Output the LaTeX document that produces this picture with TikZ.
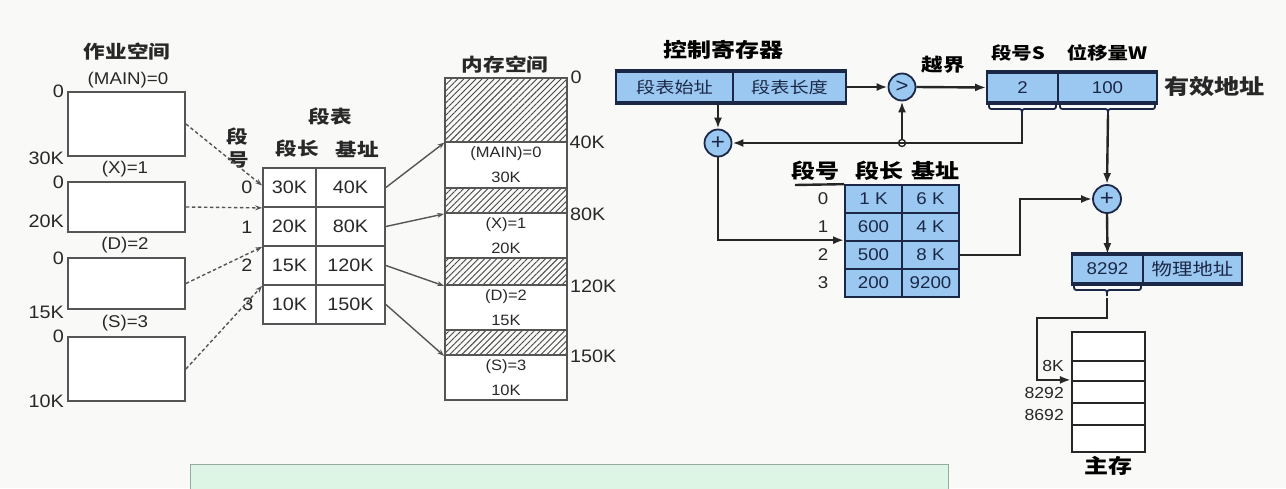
\documentclass[tikz,border=0pt]{standalone}
\usepackage{fontspec}
\setmainfont{Liberation Sans}
\newfontfamily\lat{Liberation Sans}[FakeStretch=1.1]
\newfontfamily\cjk{Noto Sans CJK SC}[FakeStretch=1.2]
\usetikzlibrary{arrows.meta,patterns.meta,calc}
\newcommand\cjkf[1]{\cjk\bfseries\fontsize{#1}{#1}\selectfont}
\newcommand\cjkr[1]{\cjk\fontsize{#1}{#1}\selectfont}
\newcommand\latf[1]{\lat\fontsize{#1}{#1}\selectfont}
\definecolor{bg}{RGB}{249,249,247}
\definecolor{txt}{RGB}{40,40,40}
\definecolor{boxgray}{RGB}{85,85,85}
\definecolor{hatchgray}{RGB}{70,70,70}
\definecolor{lblue}{RGB}{155,200,240}
\definecolor{navy}{RGB}{27,39,71}
\definecolor{gfill}{RGB}{220,245,228}
\definecolor{gline}{RGB}{150,170,160}
\tikzset{
  tx/.style={inner sep=0pt, text=txt},
  jobbox/.style={draw=boxgray, line width=1.8pt, fill=white, inner sep=0pt, minimum width=117pt},
  cell/.style={draw=boxgray, line width=1.8pt, fill=white, inner sep=0pt, minimum height=39pt, text=txt, font=\latf{18}},
  memseg/.style={draw=boxgray, line width=1.8pt, fill=white, inner sep=0pt, minimum width=122pt, text=txt, align=center, font=\lat\fontsize{15}{25}\selectfont},
  hatch/.style={draw=boxgray, line width=1.8pt, inner sep=0pt, minimum width=122pt, pattern={Lines[angle=45,distance=4.3pt,line width=0.9pt]}, pattern color=hatchgray},
  dasharr/.style={draw=boxgray, line width=1.4pt, dash pattern=on 3.5pt off 2.5pt, -{Stealth[open,length=7pt,width=5pt]}},
  thinarr/.style={draw=boxgray, line width=1.4pt, -{Stealth[open,length=7pt,width=5pt]}},
  bcell/.style={draw=navy, line width=1.7pt, fill=lblue, inner sep=0pt, text=navy},
  opc/.style={circle, draw=navy, line width=1.8pt, fill=lblue, minimum size=27pt, inner sep=0pt, text=navy},
  arr/.style={draw=black!85, line width=2.4pt, -{Latex[length=11pt,width=8pt]}},
  ln/.style={draw=black!85, line width=2.4pt},
  brc/.style={draw=navy, line width=1.8pt},
  mcell/.style={draw=black!85, line width=2.2pt, fill=white, inner sep=0pt, minimum width=73pt},
}
\begin{document}
\begin{tikzpicture}[x=1pt,y=-1pt]
\fill[bg] (0,0) rectangle (1286,488);
\useasboundingbox (0,0) rectangle (1286,488);

% ---------- job space ----------
\node[tx, font=\cjkf{18}] (ljob) at (127,52) {作业空间};
\node[tx, font=\latf{17}] (lmain) at (128,80) {(MAIN)=0};
\node[jobbox, minimum height=64pt] (j0) at (126.5,124) {};
\node[tx, font=\latf{17}] (lx) at (125,169) {(X)=1};
\node[jobbox, minimum height=50pt] (j1) at (126.5,207) {};
\node[tx, font=\latf{17}] (ld) at (125,245) {(D)=2};
\node[jobbox, minimum height=51pt] (j2) at (126.5,283.5) {};
\node[tx, font=\latf{17}] (ls) at (125,323) {(S)=3};
\node[jobbox, minimum height=64pt] (j3) at (126.5,369) {};

\node[tx, font=\latf{18}, anchor=east] (a0) at (64,91) {0};
\node[tx, font=\latf{18}, anchor=east] (a1) at (64,158) {30K};
\node[tx, font=\latf{18}, anchor=east] (a2) at (64,182) {0};
\node[tx, font=\latf{18}, anchor=east] (a3) at (64,221) {20K};
\node[tx, font=\latf{18}, anchor=east] (a4) at (64,258) {0};
\node[tx, font=\latf{18}, anchor=east] (a5) at (64,312) {15K};
\node[tx, font=\latf{18}, anchor=east] (a6) at (64,336) {0};
\node[tx, font=\latf{18}, anchor=east] (a7) at (64,401) {10K};

% ---------- segment table ----------
\node[tx, font=\cjkf{18}] (ltab) at (330,117) {段表};
\node[tx, font=\cjkf{18}] (llen) at (297,149) {段长};
\node[tx, font=\cjkf{18}] (lbase) at (357,149) {基址};
\node[tx, font=\cjkf{18}] (lduan) at (237,137) {段};
\node[tx, font=\cjkf{18}] (lhao) at (238,160) {号};

\node[cell, minimum width=53pt] (t00) at (289.5,187.5) {30K};
\node[cell, minimum width=69pt] (t01) at (350.5,187.5) {40K};
\node[cell, minimum width=53pt] (t10) at (289.5,226.5) {20K};
\node[cell, minimum width=69pt] (t11) at (350.5,226.5) {80K};
\node[cell, minimum width=53pt] (t20) at (289.5,265.5) {15K};
\node[cell, minimum width=69pt] (t21) at (350.5,265.5) {120K};
\node[cell, minimum width=53pt] (t30) at (289.5,304.5) {10K};
\node[cell, minimum width=69pt] (t31) at (350.5,304.5) {150K};

\node[tx, font=\latf{18}] (r0) at (247,187) {0};
\node[tx, font=\latf{18}] (r1) at (247,227) {1};
\node[tx, font=\latf{18}] (r2) at (247,265) {2};
\node[tx, font=\latf{18}] (r3) at (248,304) {3};

\draw[dasharr] (j0.east) -- ($(t00.west)+(0,-2)$);
\draw[dasharr] (j1.east) -- (t00.south west);
\draw[dasharr] (j2.east) -- (t10.south west);
\draw[dasharr] (j3.east) -- (t20.south west);

% ---------- memory ----------
\node[tx, font=\cjkf{18}] (lmem) at (505,65) {内存空间};
\node[hatch, minimum height=64pt] (m0) at (506,110) {};
\node[memseg, minimum height=46pt] (s0) at (506,165) {(MAIN)=0\\30K};
\node[hatch, minimum height=25pt] (h1) at (506,200.5) {};
\node[memseg, minimum height=45pt] (s1) at (506,235.5) {(X)=1\\20K};
\node[hatch, minimum height=27pt] (h2) at (506,271.5) {};
\node[memseg, minimum height=45pt] (s2) at (506,307.5) {(D)=2\\15K};
\node[hatch, minimum height=25pt] (h3) at (506,342.5) {};
\node[memseg, minimum height=45pt] (s3) at (506,377.5) {(S)=3\\10K};

\node[tx, font=\latf{18}, anchor=west] (b0) at ($(m0.north east)+(3,0)$) {0};
\node[tx, font=\latf{18}, anchor=west] (b1) at ($(m0.south east)+(2,0)$) {40K};
\node[tx, font=\latf{18}, anchor=west] (b2) at ($(h1.south east)+(2,0)$) {80K};
\node[tx, font=\latf{18}, anchor=west] (b3) at ($(h2.south east)+(2,0)$) {120K};
\node[tx, font=\latf{18}, anchor=west] (b4) at ($(h3.south east)+(2,0)$) {150K};

\draw[thinarr] (t01.east) -- (m0.south west);
\draw[thinarr] (t11.east) -- (h1.south west);
\draw[thinarr] (t21.east) -- (h2.south west);
\draw[thinarr] (t31.east) -- (h3.south west);

% ---------- control register ----------
\node[tx, font=\cjkf{20}, text=black] (lctl) at (723,50) {控制寄存器};
\node[bcell, minimum width=117pt, minimum height=30pt, font=\cjkr{16}] (c0) at (674.5,87) {段表始址};
\node[bcell, minimum width=113pt, minimum height=30pt, font=\cjkr{16}] (c1) at (789.5,87) {段表长度};
\draw[navy, line width=3.5pt] (c0.north west) -- (c1.north east);
\draw[navy, line width=3.5pt] (c0.south west) -- (c1.south east);

\node[opc, font=\latf{20}] (cmp) at (902,87) {>};
\node[tx, font=\cjkf{18}, text=black] (lover) at (943,65) {越界};

% ---------- effective address ----------
\node[tx, font=\cjkf{17}, text=black] (lS) at (1018,53) {段号S};
\node[tx, font=\cjkf{17}, text=black] (lW) at (1107,53) {位移量W};
\node[bcell, minimum width=71pt, minimum height=29pt, font=\latf{17}] (e0) at (1022.5,87.5) {2};
\node[bcell, minimum width=99pt, minimum height=29pt, font=\latf{17}] (e1) at (1107.5,87.5) {100};
\draw[navy, line width=3.5pt] (e0.north west) -- (e1.north east);
\draw[navy, line width=3.5pt] (e0.south west) -- (e1.south east);
\node[tx, font=\cjkf{21}, anchor=west] (leff) at (1164,87) {有效地址};

% braces
\draw[brc] (989,104) .. controls (989,109) .. (994,109) -- (1017,109) .. controls (1022,109) .. (1022,115) .. controls (1022,109) .. (1027,109) -- (1051,109) .. controls (1056,109) .. (1056,104);
\coordinate (bS) at (1022,115);
\draw[brc] (1060,104) .. controls (1060,109) .. (1065,109) -- (1103,109) .. controls (1108,109) .. (1108,115) .. controls (1108,109) .. (1113,109) -- (1150,109) .. controls (1155,109) .. (1155,104);
\coordinate (bW) at (1108,115);

% adders
\node[opc, font=\latf{22}] (add1) at (718,143) {+};
\node[opc, font=\latf{22}, minimum size=28pt] (add2) at (1107,199) {+};
\node[circle, draw=black!85, line width=1.4pt, fill=white, minimum size=7pt, inner sep=0pt] (jn) at (902,143) {};

\draw[arr] (c1.east) -- (cmp.west);
\draw[arr] (cmp.east) -- (e0.west);
\draw[arr] (add1 |- c0.south) -- (add1.north);
\draw[arr] (bS) |- (add1.east);
\draw[arr] (jn.north) -- (cmp.south);
\draw[arr] (bW) -- (add2.north);

% ---------- segment table (right) ----------
\node[tx, font=\cjkf{20}, text=black] (hno) at (815,171) {段号};
\node[tx, font=\cjkf{20}, text=black] (hlen) at (879,171) {段长};
\node[tx, font=\cjkf{20}, text=black] (hbase) at (935,171) {基址};

\node[bcell, minimum width=57pt, minimum height=28pt, font=\latf{17}] (q00) at (873.5,199) {1 K};
\node[bcell, minimum width=57pt, minimum height=28pt, font=\latf{17}] (q01) at (930.5,199) {6 K};
\node[bcell, minimum width=57pt, minimum height=28pt, font=\latf{17}] (q10) at (873.5,227) {600};
\node[bcell, minimum width=57pt, minimum height=28pt, font=\latf{17}] (q11) at (930.5,227) {4 K};
\node[bcell, minimum width=57pt, minimum height=28pt, font=\latf{17}] (q20) at (873.5,255) {500};
\node[bcell, minimum width=57pt, minimum height=28pt, font=\latf{17}] (q21) at (930.5,255) {8 K};
\node[bcell, minimum width=57pt, minimum height=28pt, font=\latf{17}] (q30) at (873.5,283) {200};
\node[bcell, minimum width=57pt, minimum height=28pt, font=\latf{17}] (q31) at (930.5,283) {9200};
\draw[ln] (795,185) -- (q00.north west);

\node[tx, font=\latf{17}] (w0) at (823,199) {0};
\node[tx, font=\latf{17}] (w1) at (823,227) {1};
\node[tx, font=\latf{17}] (w2) at (823,255) {2};
\node[tx, font=\latf{17}] (w3) at (823,283) {3};

\draw[arr] (add1.south) |- (q20.north west);
\draw[arr] (q21.east) -| ($(add2.west)+(-72,0)$) -- (add2.west);

% ---------- physical address ----------
\node[bcell, minimum width=71pt, minimum height=28pt, font=\latf{17}] (p0) at (1107.5,269) {8292};
\node[bcell, minimum width=99pt, minimum height=28pt, font=\cjkr{17}] (p1) at (1192.5,269) {物理地址};
\draw[navy, line width=3.5pt] (p0.north west) -- (p1.north east);
\draw[navy, line width=3.5pt] (p0.south west) -- (p1.south east);
\draw[arr] (add2.south) -- (p0.north);
\draw[brc] (1074,285) .. controls (1074,290) .. (1079,290) -- (1102,290) .. controls (1107,290) .. (1107,296) .. controls (1107,290) .. (1112,290) -- (1136,290) .. controls (1141,290) .. (1141,285);
\coordinate (bP) at (1107,298);
\coordinate (kk) at (1037,318);

% ---------- main memory ----------
\node[mcell, minimum height=29pt] (mm0) at (1108.5,346.5) {};
\node[mcell, minimum height=20pt] (mm1) at (1108.5,371) {};
\node[mcell, minimum height=22pt] (mm2) at (1108.5,392) {};
\node[mcell, minimum height=22pt] (mm3) at (1108.5,414) {};
\node[mcell, minimum height=27pt] (mm4) at (1108.5,438.5) {};
\node[tx, font=\latf{16}, anchor=east] (k8) at (1064,366) {8K};
\node[tx, font=\latf{16}, anchor=east] (k82) at (1064,393) {8292};
\node[tx, font=\latf{16}, anchor=east] (k86) at (1064,415) {8692};
\node[tx, font=\cjkf{20}, text=black] (lmm) at (1108,466) {主存};
\draw[arr] (bP) |- (kk) |- (mm2.north west);

% ---------- green note box (cut off) ----------
\begin{scope}
\clip (0,0) rectangle (1286,488);
\node[draw=gline, fill=gfill, line width=1.2pt, minimum width=758pt, minimum height=40pt, anchor=north west, inner sep=0pt] (gbox) at (190,464) {};
\end{scope}
\end{tikzpicture}
\end{document}
